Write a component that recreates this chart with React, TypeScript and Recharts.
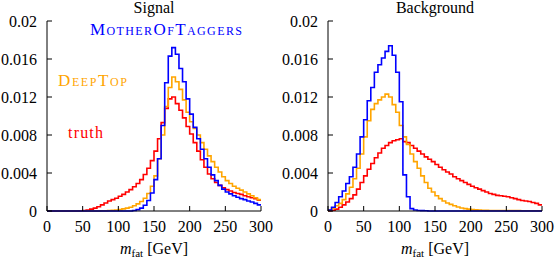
import React from "react";
import { LineChart, Line, XAxis, YAxis } from "recharts";

// histogram bins: 5 GeV wide, 0..300 GeV, contents in units of 1e-3
const BIN = 5;
const xTicks = [0, 50, 100, 150, 200, 250, 300];
const yTicks = [0, 0.004, 0.008, 0.012, 0.016, 0.02];
const yTickLabels = ["0", "0.004", "0.008", "0.012", "0.016", "0.02"];

const sigTruth = [
  0, 0, 0, 0, 0, 0, 0, 0, 0, 0.02,
  0.05, 0.1, 0.2, 0.3, 0.45, 0.65, 0.85, 1.05, 1.2, 1.35,
  1.55, 1.75, 2.0, 2.25, 2.55, 2.9, 3.3, 3.85, 4.5, 5.3,
  6.3, 7.6, 9.3, 10.8, 11.8, 12.0, 11.3, 10.6, 9.8, 8.9,
  8.1, 7.2, 6.3, 5.4, 4.6, 3.9, 3.4, 3.0, 2.7, 2.45,
  2.25, 2.1, 1.95, 1.85, 1.75, 1.6, 1.5, 1.4, 1.3, 1.15,
];
const sigDeepTop = [
  0, 0, 0, 0, 0, 0, 0, 0, 0, 0,
  0, 0, 0, 0, 0, 0.02, 0.03, 0.05, 0.07, 0.1,
  0.15, 0.22, 0.3, 0.4, 0.55, 0.75, 1.0, 1.35, 1.85, 2.6,
  3.7, 5.5, 8.0, 11.0, 13.0, 14.1, 13.6, 12.8, 11.7, 10.4,
  9.4, 8.7, 8.0, 7.2, 6.5, 5.8, 5.2, 4.6, 4.1, 3.6,
  3.2, 2.9, 2.6, 2.4, 2.2, 2.0, 1.8, 1.6, 1.4, 1.2,
];
const sigMOT = [
  0, 0, 0, 0, 0, 0, 0, 0, 0, 0,
  0, 0, 0, 0, 0, 0, 0, 0, 0, 0,
  0, 0, 0, 0, 0.05, 0.15, 0.3, 0.6, 1.1, 1.9,
  3.3, 5.5, 9.0, 13.5, 16.3, 17.2, 16.5, 15.0, 13.6, 11.8,
  10.2, 8.8, 7.6, 6.5, 5.5, 4.6, 3.8, 3.2, 2.7, 2.3,
  2.0, 1.8, 1.6, 1.45, 1.3, 1.2, 1.05, 0.95, 0.8, 0.65,
];

const bkgTruth = [
  0.02, 0.08, 0.2, 0.4, 0.65, 0.95, 1.3, 1.7, 2.3, 3.0,
  3.7, 4.4, 5.0, 5.6, 6.1, 6.6, 6.9, 7.2, 7.4, 7.5,
  7.6, 7.3, 7.2, 6.9, 6.6, 6.3, 6.0, 5.7, 5.45, 5.2,
  4.9, 4.6, 4.35, 4.1, 3.9, 3.6, 3.4, 3.2, 3.0, 2.8,
  2.6, 2.45, 2.3, 2.15, 2.0, 1.85, 1.75, 1.65, 1.6, 1.55,
  1.5, 1.4, 1.3, 1.2, 1.1, 1.05, 1.0, 0.9, 0.8, 0.65,
];
const bkgDeepTop = [
  0.1, 0.3, 0.55, 0.8, 1.2, 1.8, 2.5, 3.4, 4.5, 6.0,
  7.8, 9.5, 10.7, 11.3, 11.7, 12.0, 12.3, 12.0, 11.2, 10.4,
  9.0, 7.8, 7.0, 6.0, 5.2, 4.5, 3.7, 3.0, 2.4, 2.0,
  1.6, 1.3, 1.05, 0.85, 0.7, 0.55, 0.42, 0.32, 0.25, 0.2,
  0.15, 0.12, 0.1, 0.08, 0.07, 0.06, 0.06, 0.05, 0.05, 0.05,
  0.04, 0.04, 0.04, 0.04, 0.03, 0.03, 0.03, 0.03, 0.03, 0.03,
];
const bkgMOT = [
  0.1, 0.4, 0.9, 1.5, 2.1, 2.9, 3.6, 4.6, 6.0, 7.8,
  9.6, 11.6, 13.0, 14.6, 15.4, 16.1, 16.8, 17.4, 16.4, 14.6,
  11.5, 3.8, 1.5, 0.25, 0.1, 0.06, 0.04, 0.02, 0, 0,
  0, 0, 0, 0, 0, 0, 0, 0, 0, 0,
  0, 0, 0, 0, 0, 0, 0, 0, 0, 0,
  0, 0, 0, 0, 0, 0, 0, 0, 0, 0,
];

const BLUE = "#0000ff";
const ORANGE = "#ffa500";
const RED = "#ff0000";
const FONT = "Liberation Serif, Times New Roman, serif";
const txt = { fontFamily: FONT };

const edges = Array.from({ length: 300 / BIN + 1 }, (_, i) => i * BIN);

// step-after rows: value of bin i at its lower edge, last edge repeats last bin
function buildRows(truth: number[], deepTop: number[], mot: number[]) {
  return edges.map((m, i) => {
    const k = Math.min(i, truth.length - 1);
    return { m, truth: truth[k] / 1000, deepTop: deepTop[k] / 1000, mot: mot[k] / 1000 };
  });
}

const W = 278;
const H = 260;
const TOP = 21;
const PLOT_H = 190;
const PLOT_W = 214;

const BottomTick = (p: any) => (
  <g>
    <line x1={p.x} x2={p.x} y1={p.y} y2={p.y - 5} stroke="#000" />
    <text x={p.x} y={p.y + 21} textAnchor="middle" fontSize={16} style={txt} fill="#000">
      {p.payload.value}
    </text>
  </g>
);
const TopTick = (p: any) => <line x1={p.x} x2={p.x} y1={p.y} y2={p.y + 5} stroke="#000" />;
const LeftTick = (p: any) => (
  <g>
    <line x1={p.x} x2={p.x + 5} y1={p.y} y2={p.y} stroke="#000" />
    <text x={p.x - 10} y={p.y + 5.5} textAnchor="end" fontSize={16} style={txt} fill="#000">
      {yTickLabels[yTicks.indexOf(p.payload.value)]}
    </text>
  </g>
);
const RightTick = (p: any) => <line x1={p.x} x2={p.x - 5} y1={p.y} y2={p.y} stroke="#000" />;

function Panel({ left, yAxisW, title, rows, showLegend }: any) {
  const cx = yAxisW + PLOT_W / 2;
  return (
    <div style={{ position: "absolute", left, top: 0, width: W, height: H }}>
      <LineChart
        width={W}
        height={H}
        data={rows}
        margin={{ top: TOP, right: W - yAxisW - PLOT_W, bottom: 0, left: 0 }}
      >
        <XAxis
          xAxisId="b"
          dataKey="m"
          type="number"
          domain={[0, 300]}
          ticks={xTicks}
          interval={0}
          height={H - TOP - PLOT_H}
          tickSize={0}
          tickMargin={0}
          tickLine={false}
          axisLine={{ stroke: "#000" }}
          tick={BottomTick}
        />
        <XAxis
          xAxisId="t"
          orientation="top"
          dataKey="m"
          type="number"
          domain={[0, 300]}
          ticks={xTicks}
          interval={0}
          height={0}
          tickSize={0}
          tickMargin={0}
          tickLine={false}
          axisLine={{ stroke: "#000" }}
          tick={TopTick}
        />
        <YAxis
          yAxisId="l"
          type="number"
          domain={[0, 0.02]}
          ticks={yTicks}
          interval={0}
          width={yAxisW}
          tickSize={0}
          tickMargin={0}
          tickLine={false}
          axisLine={{ stroke: "#000" }}
          tick={LeftTick}
        />
        <YAxis
          yAxisId="r"
          orientation="right"
          type="number"
          domain={[0, 0.02]}
          ticks={yTicks}
          interval={0}
          width={0}
          tickSize={0}
          tickMargin={0}
          tickLine={false}
          axisLine={{ stroke: "#000" }}
          tick={RightTick}
        />
        <Line xAxisId="b" yAxisId="l" type="stepAfter" dataKey="truth" stroke={RED} strokeWidth={1.6} dot={false} isAnimationActive={false} />
        <Line xAxisId="b" yAxisId="l" type="stepAfter" dataKey="deepTop" stroke={ORANGE} strokeWidth={1.6} dot={false} isAnimationActive={false} />
        <Line xAxisId="b" yAxisId="l" type="stepAfter" dataKey="mot" stroke={BLUE} strokeWidth={1.6} dot={false} isAnimationActive={false} />
      </LineChart>
      <svg
        width={W}
        height={H}
        style={{ position: "absolute", left: 0, top: 0, pointerEvents: "none", fontFamily: FONT }}
      >
        <text x={cx} y={13} textAnchor="middle" fontSize={16} fill="#000">{title}</text>
        <text x={cx} y={254} textAnchor="middle" fontSize={16} fill="#000">
          <tspan fontStyle="italic">m</tspan>
          <tspan fontSize={11} dy={3}>fat</tspan>
          <tspan dy={-3}> [GeV]</tspan>
        </text>
        {showLegend && (
          <g>
            <text x={90} y={34.5} fontSize={17} fill={BLUE} style={{ fontVariant: "small-caps" }} textLength={152} lengthAdjust="spacing">MotherOfTaggers</text>
            <text x={58} y={86} fontSize={17} fill={ORANGE} style={{ fontVariant: "small-caps" }} textLength={69} lengthAdjust="spacing">DeepTop</text>
            <text x={68} y={138} fontSize={16} fill={RED} textLength={35} lengthAdjust="spacing">truth</text>
          </g>
        )}
      </svg>
    </div>
  );
}

export default function App() {
  return (
    <div style={{ position: "absolute", left: 0, top: 0, width: 557, height: 260, background: "#fff" }}>
      <Panel left={0} yAxisW={47} title="Signal" rows={buildRows(sigTruth, sigDeepTop, sigMOT)} showLegend />
      <Panel left={279} yAxisW={49} title="Background" rows={buildRows(bkgTruth, bkgDeepTop, bkgMOT)} />
    </div>
  );
}
